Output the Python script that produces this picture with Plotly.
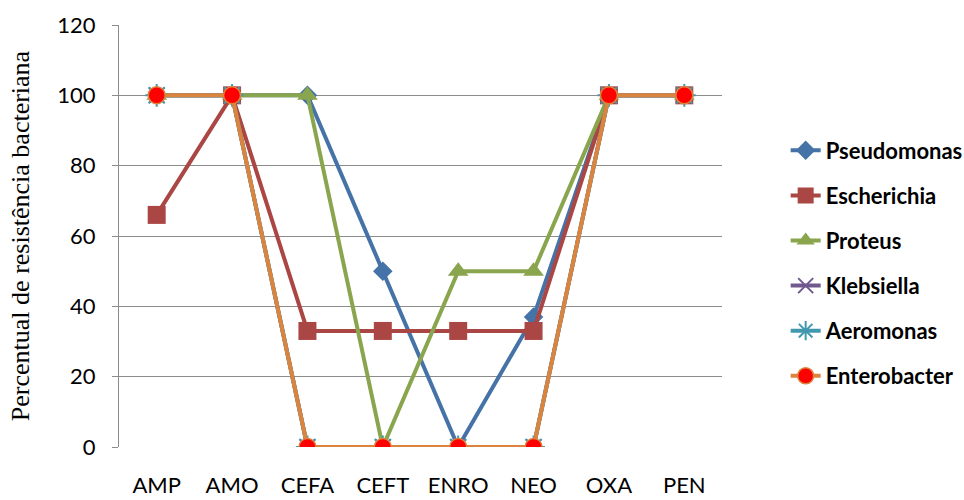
import plotly.graph_objects as go

# Antibiotics tested
antibiotics = ["AMP", "AMO", "CEFA", "CEFT", "ENRO", "NEO", "OXA", "PEN"]

# Resistance percentage per genus
pseudomonas = [100, 100, 100, 50, 0, 37, 100, 100]
escherichia = [66, 100, 33, 33, 33, 33, 100, 100]
proteus = [100, 100, 100, 0, 50, 50, 100, 100]
klebsiella = [100, 100, 0, 0, 0, 0, 100, 100]
aeromonas = [100, 100, 0, 0, 0, 0, 100, 100]
enterobacter = [100, 100, 0, 0, 0, 0, 100, 100]

y_ticks = [0, 20, 40, 60, 80, 100, 120]

series = [
    ("Pseudomonas", pseudomonas, "#4572A7",
     dict(symbol="diamond", size=15, color="#4572A7")),
    ("Escherichia", escherichia, "#AA4643",
     dict(symbol="square", size=18, color="#AA4643")),
    ("Proteus", proteus, "#89A54E",
     dict(symbol="triangle-up", size=18, color="#89A54E")),
    ("Klebsiella", klebsiella, "#71588F",
     dict(symbol="x-thin-open", size=15, color="#71588F",
          line=dict(width=2, color="#71588F"))),
    ("Aeromonas", aeromonas, "#4198AF",
     dict(symbol="asterisk-open", size=19, color="#4198AF",
          line=dict(width=2, color="#4198AF"))),
    ("Enterobacter", enterobacter, "#DB843D",
     dict(symbol="circle", size=17, color="#FF0000",
          line=dict(width=1.5, color="#DB843D"))),
]

fig = go.Figure()
for i, (name, vals, color, marker) in enumerate(series):
    fig.add_trace(go.Scatter(
        x=antibiotics, y=vals, name=name, mode="lines+markers",
        line=dict(color=color, width=4),
        marker=marker,
        legendgroup=f"g{i}",
    ))

fig.update_layout(
    width=964, height=500,
    margin=dict(l=119, r=242, t=25, b=53, autoexpand=False),
    paper_bgcolor="white", plot_bgcolor="white",
    showlegend=True,
    legend=dict(
        x=0.815, xanchor="left", y=0.473, yanchor="middle",
        xref="container", yref="container",
        font=dict(family="Lato", size=22, color="black", weight="bold"),
        traceorder="grouped", tracegroupgap=13.5,
        bgcolor="rgba(0,0,0,0)", itemsizing="trace",
        maxheight=420,
    ),
    xaxis=dict(
        type="category", range=[-0.5, 7.5], automargin=False,
        showgrid=False, showline=False, zeroline=False,
        ticks="", tickfont=dict(family="Lato", size=22, color="black"),
        ticklabelstandoff=23,
    ),
    yaxis=dict(
        range=[0, 120], tickvals=y_ticks, automargin=False,
        showgrid=True, gridcolor="#8c8c8c", gridwidth=1,
        showline=True, linecolor="#8c8c8c", linewidth=1,
        ticks="outside", ticklen=6, tickcolor="#8c8c8c",
        zeroline=False,
        tickfont=dict(family="Lato", size=22, color="black"),
        ticklabelstandoff=12,
        title=dict(text="Percentual de resistência bacteriana",
                   font=dict(family="Liberation Serif", size=26, color="black"),
                   standoff=20),
    ),
)

fig.write_html("out.html")
